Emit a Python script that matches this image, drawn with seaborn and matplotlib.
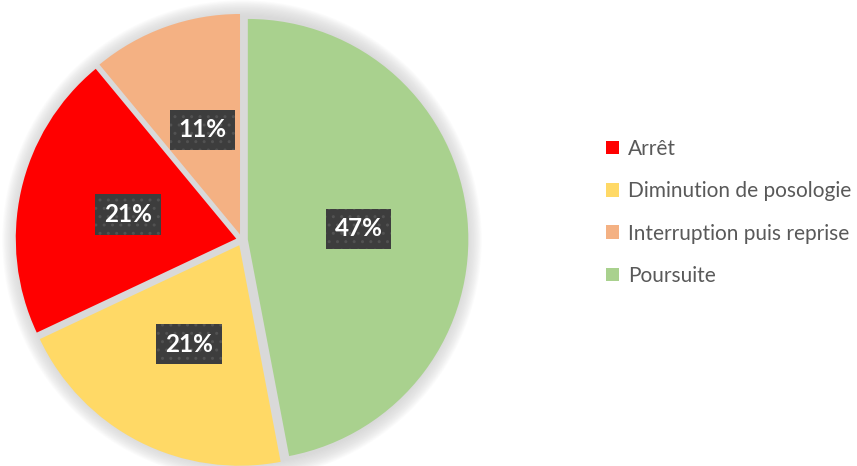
import matplotlib
matplotlib.use("Agg")
import matplotlib.pyplot as plt
from matplotlib.patches import Circle, Patch
import numpy as np
import seaborn as sns

categories = ["Arrêt", "Diminution de posologie", "Interruption puis reprise", "Poursuite"]
shares = [21, 21, 11, 47]
colors = ["#FF0000", "#FFD966", "#F4B183", "#A9D18E"]

# wedges are laid out counter-clockwise from the top: Interruption, Arrêt, Diminution, Poursuite
pie_order = [2, 0, 1, 3]

sns.set_theme(style="white")
plt.rcParams["font.family"] = ["Lato", "DejaVu Sans"]
plt.rcParams["hatch.linewidth"] = 1.0

W, H, DPI = 857, 466, 100
fig = plt.figure(figsize=(W / DPI, H / DPI), dpi=DPI)
ax = fig.add_axes([0, 0, 1, 1])

cx, cy, R = 242, 240, 225  # pixel geometry of the pie (y from top)

# soft shadow and grey backing disc that shows through the gaps
for i in range(14):
    r = 1.065 - i * 0.005
    ax.add_patch(Circle((0, 0), r, color="#d0d0d0", alpha=0.08, lw=0, zorder=0))
ax.add_patch(Circle((0, 0), 0.995, color="#d9d9d9", lw=0, zorder=1))

vals = [shares[i] for i in pie_order]
cols = [colors[i] for i in pie_order]
wedges, texts = ax.pie(
    vals,
    colors=cols,
    startangle=90,
    counterclock=True,
    explode=[0.026] * len(vals),
    radius=0.98,
    wedgeprops=dict(linewidth=0),
)
for w in wedges:
    w.set_zorder(2)

# percentage labels in dark dotted boxes
start = 90.0
total = sum(vals)
for v in vals:
    span = 360.0 * v / total
    mid = np.deg2rad(start + span / 2)
    d = 0.52
    x, y = d * np.cos(mid), d * np.sin(mid)
    ax.text(
        x, y, f"{v}%",
        ha="center", va="center", color="white", fontsize=17.5, fontweight="bold",
        zorder=5,
        bbox=dict(boxstyle="square,pad=0.36", facecolor="#3d3d3d",
                  edgecolor="#525252", linewidth=0, hatch=".."),
    )
    start += span

ax.set_aspect("auto")
ax.set_xlim(-cx / R, (W - cx) / R)
ax.set_ylim(-(H - cy) / R, cy / R)
ax.axis("off")

handles = [Patch(facecolor=c, edgecolor="none") for c in colors]
leg = ax.legend(
    handles, categories,
    loc="upper left",
    bbox_to_anchor=(606 / W, 1 - 139 / H),
    bbox_transform=fig.transFigure,
    frameon=False,
    fontsize=15,
    handlelength=0.62,
    handleheight=0.62,
    handletextpad=0.45,
    labelspacing=1.07,
    borderaxespad=0,
    borderpad=0,
)
for t in leg.get_texts():
    t.set_color("#595959")

fig.savefig("out.png", dpi=DPI, facecolor="white")
